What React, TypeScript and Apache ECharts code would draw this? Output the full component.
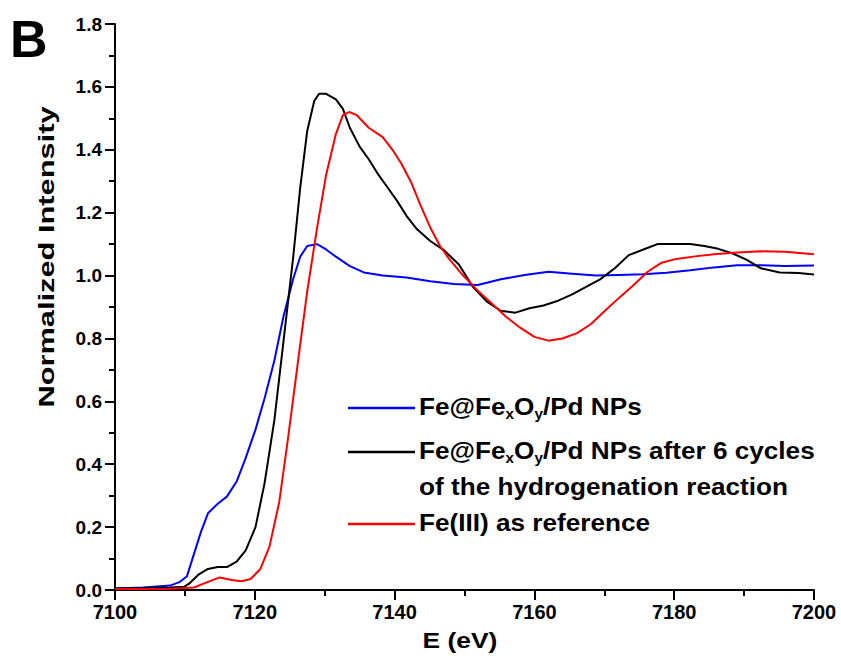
import React, { useEffect, useRef } from "react";
import * as echarts from "echarts";

const blueE = [7100, 7104, 7107.9, 7109.3, 7110.3, 7111.3, 7112.3, 7113.3, 7114.7, 7116, 7117.4, 7118.7, 7120.1, 7121.4, 7122.8, 7124.1, 7125.5, 7126.5, 7127.5, 7128.9, 7130.2, 7131.6, 7133.6, 7135.6, 7138.3, 7141.7, 7145.1, 7148.5, 7151.9, 7155.2, 7158.6, 7162, 7165.4, 7168.8, 7172.1, 7175.5, 7178.9, 7182.3, 7185.7, 7189, 7192.4, 7195.8, 7200];
const blueI = [0.005, 0.008, 0.014, 0.026, 0.044, 0.115, 0.185, 0.244, 0.274, 0.297, 0.345, 0.42, 0.51, 0.61, 0.73, 0.87, 0.99, 1.06, 1.094, 1.1, 1.083, 1.06, 1.03, 1.01, 1.0, 0.994, 0.982, 0.973, 0.97, 0.988, 1.002, 1.012, 1.006, 1.0, 1.002, 1.004, 1.009, 1.017, 1.026, 1.033, 1.033, 1.03, 1.032];

const blackE = [7100, 7104, 7107.9, 7109.9, 7110.6, 7112, 7113.3, 7114.7, 7116, 7117.4, 7118.7, 7120.1, 7121.4, 7122.8, 7124.1, 7125.5, 7126.5, 7127.5, 7128.5, 7129.2, 7130.2, 7131.6, 7132.6, 7133.6, 7135, 7136.3, 7137.7, 7139, 7140.4, 7141.7, 7143.1, 7145.1, 7147.1, 7149.2, 7151.2, 7153.2, 7155.2, 7157.3, 7159.3, 7161.3, 7163.4, 7165.4, 7167.4, 7169.4, 7171.5, 7173.5, 7175.5, 7177.6, 7179.6, 7182.3, 7184.3, 7186.3, 7188.4, 7190.4, 7192.4, 7195.1, 7197.8, 7200];
const blackI = [0.005, 0.006, 0.008, 0.01, 0.02, 0.05, 0.067, 0.073, 0.073, 0.09, 0.126, 0.2, 0.34, 0.54, 0.79, 1.06, 1.28, 1.46, 1.555, 1.578, 1.578, 1.56, 1.53, 1.47, 1.41, 1.37, 1.32, 1.28, 1.236, 1.19, 1.15, 1.11, 1.08, 1.035, 0.964, 0.917, 0.888, 0.882, 0.896, 0.905, 0.92, 0.94, 0.964, 0.988, 1.023, 1.065, 1.082, 1.1, 1.1, 1.1, 1.094, 1.085, 1.07, 1.05, 1.023, 1.01, 1.008, 1.003];

const redE = [7100, 7104, 7108, 7111.3, 7113.3, 7115, 7116.7, 7118.1, 7119.4, 7120.8, 7122.1, 7123.5, 7124.8, 7126.2, 7127.5, 7128.9, 7130.2, 7131.6, 7132.6, 7133.5, 7134.6, 7136.3, 7138.3, 7139.7, 7141, 7142.4, 7143.7, 7145.1, 7146.5, 7147.8, 7149.8, 7151.9, 7153.9, 7155.9, 7157.9, 7160, 7162, 7164, 7166.1, 7168.1, 7170.1, 7172.1, 7174.2, 7176.2, 7178.2, 7180.3, 7183, 7185.7, 7189, 7192.4, 7195.8, 7200];
const redI = [0.003, 0.003, 0.004, 0.008, 0.026, 0.04, 0.032, 0.028, 0.035, 0.067, 0.138, 0.28, 0.49, 0.73, 0.95, 1.15, 1.32, 1.45, 1.51, 1.52, 1.51, 1.47, 1.44, 1.4, 1.355, 1.295, 1.224, 1.153, 1.094, 1.053, 1.0, 0.952, 0.911, 0.87, 0.835, 0.805, 0.793, 0.8, 0.817, 0.846, 0.888, 0.929, 0.97, 1.012, 1.041, 1.053, 1.061, 1.068, 1.073, 1.077, 1.076, 1.068];

const seriesNames = ["Fe@FexOy/Pd NPs", "Fe@FexOy/Pd NPs after 6 cycles of the hydrogenation reaction", "Fe(III) as reference"];
const seriesColors = ["#0000ff", "#000000", "#ff0000"];

const FONT = "Liberation Sans, Arial, sans-serif";

function pairs(xs: number[], ys: number[]) {
  return xs.map((x, i) => [x, ys[i]]);
}

export default function App() {
  const ref = useRef<HTMLDivElement>(null);
  useEffect(() => {
    document.body.style.margin = "0";
    const chart = echarts.init(ref.current!, null, { renderer: "svg" });
    const rich = {
      m: { fontSize: 24, fontWeight: "bold", fontFamily: FONT, color: "#000", verticalAlign: "bottom", lineHeight: 25 },
      s: { fontSize: 14, fontWeight: "bold", fontFamily: FONT, color: "#000", verticalAlign: "bottom", lineHeight: 25, padding: [0, 0, -3, 0] },
    };
    const legendLines = [
      { y: 408, text: "{m|Fe@Fe}{s|x}{m|O}{s|y}{m|/Pd NPs}", line: 0 },
      { y: 452, text: "{m|Fe@Fe}{s|x}{m|O}{s|y}{m|/Pd NPs after 6 cycles}", line: 1 },
      { y: 488, text: "{m|of the hydrogenation reaction}", line: -1 },
      { y: 524, text: "{m|Fe(III) as reference}", line: 2 },
    ];
    const graphics: any[] = [];
    legendLines.forEach((it) => {
      if (it.line >= 0) {
        graphics.push({
          type: "line",
          shape: { x1: 348, y1: it.y, x2: 415, y2: it.y },
          style: { stroke: seriesColors[it.line], lineWidth: 2.5 },
        });
      }
      graphics.push({
        type: "text",
        x: 419,
        y: it.y - 15,
        scaleX: 1.09,
        style: { text: it.text, rich, textVerticalAlign: "top" },
      });
    });
    graphics.push({
      type: "text",
      x: 47,
      y: 257,
      rotation: Math.PI / 2,
      scaleX: 1.4,
      style: { text: "Normalized Intensity", fontSize: 22, fontWeight: "bold", fontFamily: FONT, fill: "#000", align: "center", verticalAlign: "middle" },
    });
    graphics.push({
      type: "text",
      x: 460,
      y: 640,
      scaleX: 1.2,
      style: { text: "E (eV)", fontSize: 22, fontWeight: "bold", fontFamily: FONT, fill: "#000", align: "center", verticalAlign: "middle" },
    });
    graphics.push({
      type: "text",
      x: 10,
      y: 13,
      style: { text: "B", fontSize: 52, fontWeight: "bold", fontFamily: FONT, fill: "#000", align: "left", verticalAlign: "top" },
    });

    const series = [
      pairs(blueE, blueI),
      pairs(blackE, blackI),
      pairs(redE, redI),
    ].map((d, i) => ({
      name: seriesNames[i],
      type: "line",
      data: d,
      showSymbol: false,
      symbol: "none",
      lineStyle: { color: seriesColors[i], width: 2 },
      itemStyle: { color: seriesColors[i] },
      z: i === 2 ? 3 : i === 1 ? 2 : 1,
    }));

    chart.setOption({
      animation: false,
      backgroundColor: "#fff",
      grid: { left: 115, right: 27, top: 24, bottom: 73, outerBoundsMode: "none" },
      xAxis: {
        type: "value",
        min: 7100,
        max: 7200,
        interval: 20,
        axisLine: { show: true, lineStyle: { color: "#000", width: 2 } },
        axisTick: { show: true, length: 10, lineStyle: { color: "#000", width: 2 } },
        minorTick: { show: true, splitNumber: 2, length: 6, lineStyle: { color: "#000", width: 2 } },
        splitLine: { show: false },
        axisLabel: { fontSize: 20, fontWeight: "bold", fontFamily: FONT, color: "#000", margin: 12, formatter: (v: number) => String(v) },
      },
      yAxis: {
        type: "value",
        min: 0,
        max: 1.8,
        interval: 0.2,
        axisLine: { show: true, lineStyle: { color: "#000", width: 2 } },
        axisTick: { show: true, length: 10, lineStyle: { color: "#000", width: 2 } },
        minorTick: { show: true, splitNumber: 2, length: 6, lineStyle: { color: "#000", width: 2 } },
        splitLine: { show: false },
        axisLabel: { fontSize: 19, fontWeight: "bold", fontFamily: FONT, color: "#000", margin: 13, formatter: (v: number) => v.toFixed(1) },
      },
      series,
      graphic: graphics,
    });
    return () => chart.dispose();
  }, []);
  return <div ref={ref} style={{ width: 841, height: 663 }} />;
}
